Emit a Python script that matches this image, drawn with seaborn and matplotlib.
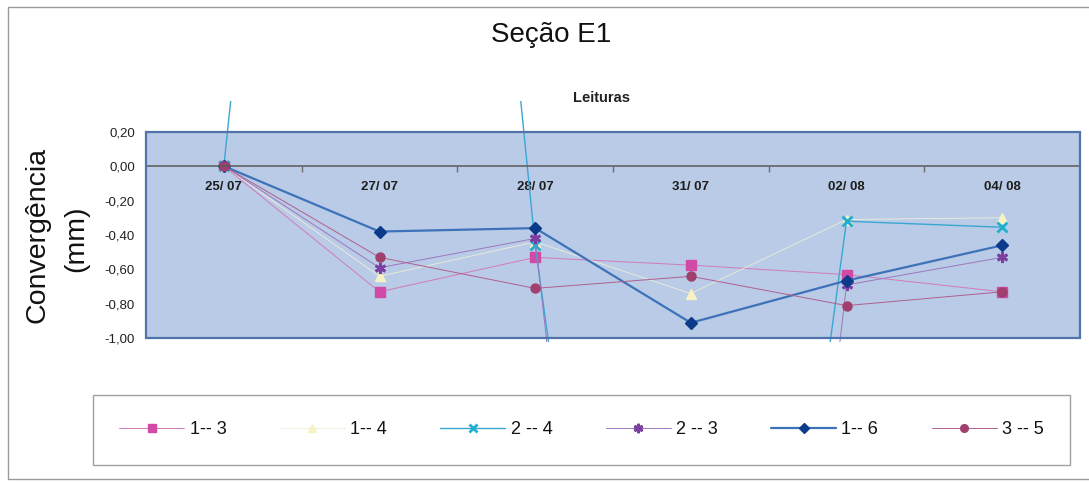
import numpy as np
import pandas as pd
import matplotlib
matplotlib.use("Agg")
import matplotlib.pyplot as plt
from matplotlib.patches import Rectangle
import seaborn as sns

# Reading dates (x categories)
datas = ["25/ 07", "27/ 07", "28/ 07", "31/ 07", "02/ 08", "04/ 08"]

# Convergence readings per measuring pair (mm)
par_1_3 = [0.00, -0.73, -0.53, -0.575, -0.63, -0.73]
par_1_4 = [0.00, -0.64, -0.44, -0.74, -0.31, -0.30]
par_2_4 = [0.00, 8.6, -0.46, -7.0, -0.32, -0.355]
par_2_3 = [0.00, -0.59, -0.42, -8.5, -0.69, -0.53]
par_1_6 = [0.00, -0.38, -0.36, -0.91, -0.665, -0.46]
par_3_5 = [0.00, -0.53, -0.71, -0.64, -0.81, -0.73]

rotulos = ["1-- 3", "1-- 4", "2 -- 4", "2 -- 3", "1-- 6", "3 -- 5"]
series = [par_1_3, par_1_4, par_2_4, par_2_3, par_1_6, par_3_5]

y_ticks = [0.20, 0.00, -0.20, -0.40, -0.60, -0.80, -1.00]
y_tick_labels = ["0,20", "0,00", "-0,20", "-0,40", "-0,60", "-0,80", "-1,00"]

# Line/marker styling per series
estilos = [
    dict(color="#d27ab8", marker="s", mfc="#d04aa6", mec="#d04aa6", ms=6.5, mew=1, lw=0.7),
    dict(color="#eeeed8", marker="^", mfc="#f6f2c4", mec="#f6f2c4", ms=7, mew=1, lw=0.6),
    dict(color="#3aa6d4", marker="x", mfc="#1fb0d0", mec="#1fb0d0", ms=7, mew=2.0, lw=1.0),
    dict(color="#9a78c0", marker=(6, 2, 0), mfc="#7a3fa0", mec="#7a3fa0", ms=8, mew=2.0, lw=0.7),
    dict(color="#3d72b8", marker="D", mfc="#0d3b8c", mec="#0d3b8c", ms=6.5, mew=1, lw=1.6),
    dict(color="#b0608e", marker="o", mfc="#a0406e", mec="#a0406e", ms=6.5, mew=1, lw=0.7),
]

sns.set_theme(style="white")
plt.rcParams["font.family"] = ["Liberation Sans", "DejaVu Sans"]

W, H = 1089, 483
fig = plt.figure(figsize=(W / 100, H / 100), dpi=100)
fig.patch.set_facecolor("white")
ax = fig.add_axes([146 / W, (H - 338.3) / H, (1080 - 146) / W, (338.3 - 131.7) / H])
ax.set_facecolor("#b9cbe6")

pos = np.arange(len(datas))
for nome, valores, st in zip(rotulos, series, estilos):
    df = pd.DataFrame({"pos": pos, "valor": valores})
    sns.lineplot(data=df, x="pos", y="valor", ax=ax, label=nome, sort=False,
                 color=st["color"], lw=st["lw"], marker=st["marker"],
                 markerfacecolor=st["mfc"], markeredgecolor=st["mec"],
                 markersize=st["ms"], markeredgewidth=st["mew"])

# Lines may run a little past the plot area, as the spreadsheet does
clip = Rectangle((0, -0.02), 1, 1.17, transform=ax.transAxes, visible=False)
ax.add_patch(clip)
for ln in ax.lines:
    ln.set_clip_path(clip)

ax.set_xlim(-0.5, len(datas) - 0.5)
ax.set_ylim(-1.0, 0.2)

# Category axis drawn along the zero line
for s in ["top", "left", "right"]:
    ax.spines[s].set_visible(False)
ax.spines["bottom"].set_position(("data", 0))
ax.spines["bottom"].set_color("#5a5a5a")
ax.spines["bottom"].set_linewidth(1.1)
ax.set_xticks(pos)
ax.set_xticklabels(datas, fontsize=9.5, fontweight="bold", color="#1e1e1e")
ax.set_xticks(pos[:-1] + 0.5, minor=True)
ax.tick_params(axis="x", which="major", length=0, pad=11)
ax.tick_params(axis="x", which="minor", length=4, width=1, color="#6a6a6a",
               direction="out", bottom=True)

ax.set_yticks(y_ticks)
ax.set_yticklabels(y_tick_labels, fontsize=9.5, color="#222222")
ax.tick_params(axis="y", length=0, pad=8)
ax.set_xlabel("")
ax.set_ylabel("")
ax.grid(False)

# Plot-area frame
ax.add_patch(Rectangle((0, 0), 1, 1, transform=ax.transAxes, fill=False,
                       ec="#4f74aa", lw=1.6, zorder=5, clip_on=False))

# Titles
fig.text(551 / W, 1 - 42 / H, "Seção E1", ha="center", va="baseline",
         fontsize=20, color="#111111")
fig.text(601 / W, 1 - 101.5 / H, "Leituras", ha="center", va="baseline",
         fontsize=10.5, fontweight="bold", color="#222222")
fig.text(38 / W, 1 - 235 / H, "Convergência", ha="center", va="center",
         rotation=90, fontsize=20.5, color="#111111")
fig.text(76 / W, 1 - 239 / H, "(mm)", ha="center", va="center",
         rotation=90, fontsize=20.5, color="#111111")

# Legend below the chart
handles, labels = ax.get_legend_handles_labels()
ax.get_legend().remove()
leg = fig.legend(handles, labels, loc="center",
                 bbox_to_anchor=(93 / W, (H - 465) / H, (1070 - 93) / W, 70 / H),
                 mode="expand", ncol=6, frameon=True, fancybox=False,
                 fontsize=13, handlelength=3.6, handletextpad=0.3,
                 markerscale=0.85, borderpad=1.45, borderaxespad=0)
leg.get_frame().set_edgecolor("#8a8a8a")
leg.get_frame().set_linewidth(1.0)
for t in leg.get_texts():
    t.set_color("#111111")

# Outer chart border
fig.add_artist(Rectangle((8 / W, 4 / H), 1.2, (H - 11) / H, transform=fig.transFigure,
                         fill=False, ec="#9a9a9a", lw=1.0))

fig.savefig("out.png", dpi=100, facecolor="white")
